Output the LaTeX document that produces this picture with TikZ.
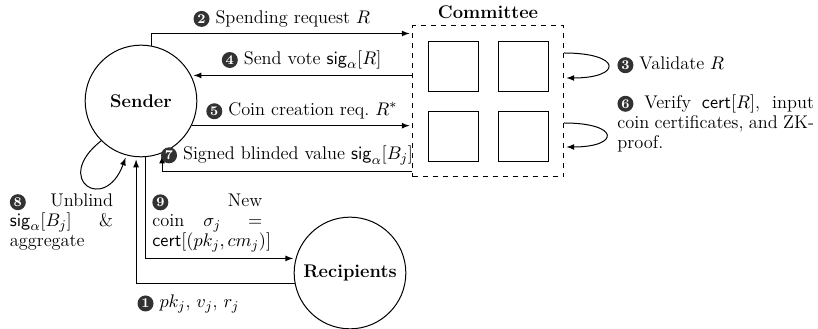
\documentclass[tikz,border=0pt]{standalone}
\usepackage{amsmath}
\usetikzlibrary{calc}
\usetikzlibrary{positioning}
\usetikzlibrary{fit}
\definecolor{numbg}{RGB}{50,50,50}
\newcommand{\stepnum}[1]{\tikz[baseline=(n.base)]\node[circle,fill=numbg,text=white,inner sep=0pt,minimum size=9.6pt,font=\fontsize{8}{9}\selectfont\bfseries](n){#1};}
\tikzset{
  party/.style={circle,draw,semithick,minimum size=67pt,inner sep=0pt,font=\bfseries},
  member/.style={draw,semithick,minimum size=30pt,inner sep=0pt},
  arr/.style={-latex,semithick,shorten >=1.5pt},
}

\begin{document}
\fontsize{11}{12}\selectfont
\begin{tikzpicture}[x=0.6pt,y=0.6pt]
  \useasboundingbox (0,0) rectangle (818,329);
  % parties
  \node[party] (send) at (141,228) {Sender};
  \node[party] (rec) at (350,56) {Recipients};
  % committee
  \node[member] (m1) at (453,262.5) {};
  \node[member,right=11.4pt of m1] (m2) {};
  \node[member,below=11.4pt of m1] (m3) {};
  \node[member,right=11.4pt of m3] (m4) {};
  \node[draw,dashed,semithick,inner sep=9pt,fit=(m1)(m4)] (comm) {};
  \node[font=\bfseries,above=0pt of comm] (commlbl) {Committee};

  \draw[arr] (send.79) |- node[above,pos=0.75]{\stepnum{2} Spending request $R$} ($(comm.north west)+(0,-8)$);
  \draw[arr] (send.27 -| comm.west) -- node[above]{\stepnum{4} Send vote $\mathsf{sig}_\alpha[R]$} (send.27);
  \draw[arr] (send.-26) -- node[above]{\stepnum{5} Coin creation req.\ $R^*$} (send.-26 -| comm.west);
  \draw[arr] ($(comm.south west)+(0,6)$) -| node[above,pos=0.25]{\stepnum{7} Signed blinded value $\mathsf{sig}_\alpha[B_j]$} (send.-68);

  % committee loops
  \draw[arr] (comm.east |- 0,276) to[out=0,in=0,looseness=6] (comm.east |- 0,251);
  \draw[arr] (comm.east |- 0,206) to[out=0,in=0,looseness=6] (comm.east |- 0,182);
  \node[right] (valid) at (611,264) {\stepnum{3} Validate $R$};
  \node[right,text width=118pt,align=justify] (verify) at (611,206) {\stepnum{6} Verify $\mathsf{cert}[R]$, input coin certificates, and ZK-proof.};

  % sender and recipients
  \draw[arr] (rec.191) -| node[below right,pos=0.5,xshift=-3pt,yshift=-3pt]{\stepnum{1} $pk_j$, $v_j$, $r_j$} (send.-95);
  \draw[arr] (send.-85) |- node[above right,pos=0.5,text width=66pt,align=justify]{\stepnum{9} New coin $\sigma_j = \mathsf{cert}[(pk_j,cm_j)]$} (rec.165);
  \draw[arr] (send.225) to[out=218,in=250,looseness=5.5] (send.255);
  \node[text width=62pt,align=justify] (unblind) at (61.5,107) {\stepnum{8} Unblind $\mathsf{sig}_\alpha[B_j]$ \& aggregate};
\end{tikzpicture}
\end{document}
